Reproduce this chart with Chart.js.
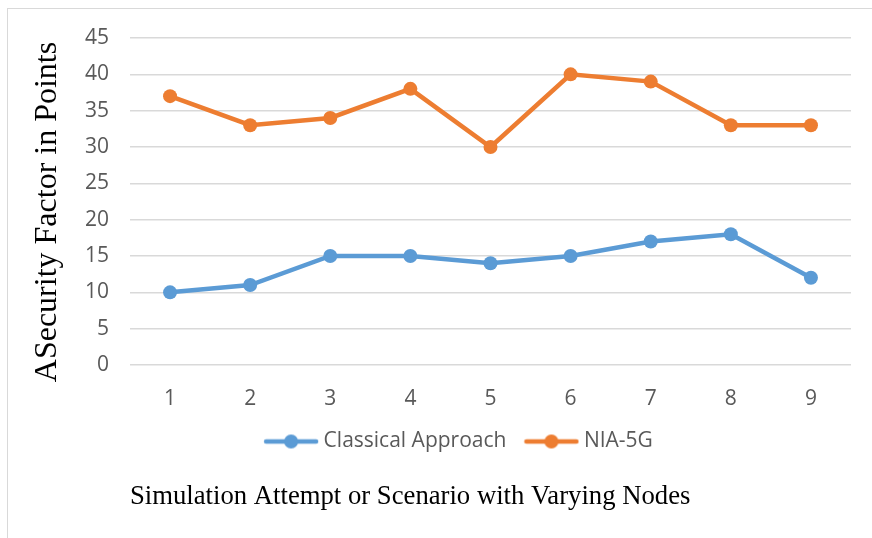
<!DOCTYPE html>
<html>
<head>
<meta charset="utf-8">
<script src="https://cdn.jsdelivr.net/npm/chart.js@4.4.1/dist/chart.umd.min.js"></script>
<style>
  html, body { margin: 0; padding: 0; background: #fff; }
  #wrap { position: relative; width: 872px; height: 538px; }
  #frame { position: absolute; left: 7px; top: 8px; right: -10px; bottom: -10px; border-left: 1.5px solid #d9d9d9; border-top: 1.5px solid #d9d9d9; }
  canvas { position: absolute; left: 0; top: 0; }
</style>
</head>
<body>
<div id="wrap">
  <div id="frame"></div>
  <canvas id="c" width="872" height="538"></canvas>
</div>
<script>
const categories = ['1', '2', '3', '4', '5', '6', '7', '8', '9'];
const classicalApproach = [10, 11, 15, 15, 14, 15, 17, 18, 12];
const nia5g = [37, 33, 34, 38, 30, 40, 39, 33, 33];
const seriesNames = ['Classical Approach', 'NIA-5G'];
const yTitle = 'ASecurity Factor in Points';
const xTitle = 'Simulation Attempt or Scenario with Varying Nodes';

const BLUE = '#5B9BD5';
const ORANGE = '#ED7D31';
const TICK_FONT = '"Open Sans", "Liberation Sans", sans-serif';

function legendMarker(color) {
  const cv = document.createElement('canvas');
  cv.width = 56; cv.height = 16;
  const g = cv.getContext('2d');
  g.strokeStyle = color; g.lineWidth = 4.5; g.lineCap = 'round';
  g.beginPath(); g.moveTo(3, 8); g.lineTo(53, 8); g.stroke();
  g.fillStyle = color;
  g.beginPath(); g.arc(28, 8, 7, 0, Math.PI * 2); g.fill();
  return cv;
}

const titlesPlugin = {
  id: 'axisTitles',
  afterDraw(chart) {
    const ctx = chart.ctx;
    const area = chart.chartArea;
    ctx.save();
    ctx.fillStyle = '#000';
    ctx.font = '32px "Liberation Serif", "Times New Roman", serif';
    ctx.textAlign = 'center';
    ctx.textBaseline = 'middle';
    ctx.translate(48, 212);
    ctx.rotate(-Math.PI / 2);
    ctx.fillText(yTitle, 0, 0);
    ctx.restore();
    ctx.save();
    ctx.fillStyle = '#000';
    ctx.font = '26.7px "Liberation Serif", "Times New Roman", serif';
    ctx.textAlign = 'left';
    ctx.textBaseline = 'middle';
    ctx.fillText(xTitle, area.left, 497);
    ctx.restore();
  }
};

new Chart(document.getElementById('c'), {
  type: 'line',
  data: {
    labels: categories,
    datasets: [
      { label: seriesNames[0], data: classicalApproach, borderColor: BLUE, backgroundColor: BLUE,
        borderWidth: 4.5, pointRadius: 7, pointHoverRadius: 7, pointBackgroundColor: BLUE, pointBorderWidth: 0, tension: 0 },
      { label: seriesNames[1], data: nia5g, borderColor: ORANGE, backgroundColor: ORANGE,
        borderWidth: 4.5, pointRadius: 7, pointHoverRadius: 7, pointBackgroundColor: ORANGE, pointBorderWidth: 0, tension: 0 }
    ]
  },
  options: {
    responsive: false,
    animation: false,
    layout: { padding: { left: 71, top: 38, right: 21, bottom: 76 } },
    scales: {
      x: {
        offset: true,
        grid: { display: false, drawTicks: false },
        border: { display: false },
        ticks: { color: '#595959', font: { family: TICK_FONT, size: 21 }, padding: 21 },
        afterFit(s) { s.height = 43; }
      },
      y: {
        min: 0, max: 45,
        grid: { color: '#d9d9d9', lineWidth: 1.5, drawTicks: false },
        border: { display: false },
        ticks: { stepSize: 5, color: '#595959', font: { family: TICK_FONT, size: 21 }, padding: 21 },
        afterFit(s) { s.width = 59; }
      }
    },
    plugins: {
      legend: {
        position: 'bottom',
        labels: {
          color: '#595959',
          font: { family: TICK_FONT, size: 21 },
          usePointStyle: true,
          pointStyleWidth: 44,
          padding: 23,
          generateLabels(chart) {
            return chart.data.datasets.map((d, i) => ({
              text: d.label, fillStyle: d.borderColor, strokeStyle: d.borderColor,
              pointStyle: legendMarker(d.borderColor), lineWidth: 0, hidden: false, datasetIndex: i,
              fontColor: '#595959'
            }));
          }
        }
      },
      tooltip: { enabled: false }
    }
  },
  plugins: [titlesPlugin]
});
</script>
</body>
</html>
